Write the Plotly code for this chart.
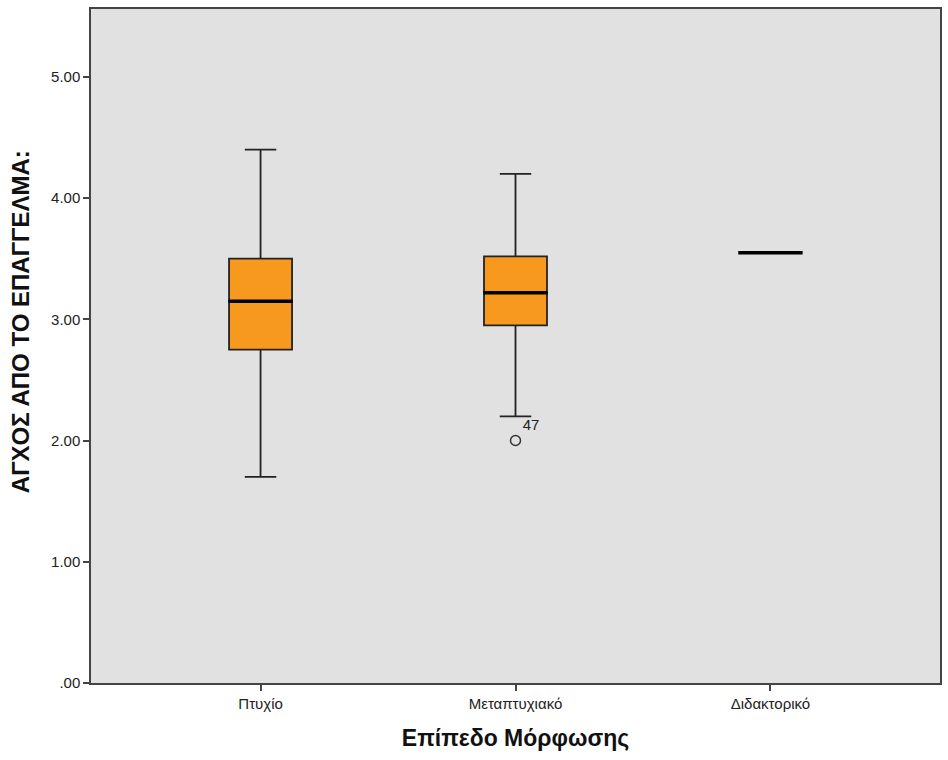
import plotly.graph_objects as go

categories = ["Πτυχίο", "Μεταπτυχιακό", "Διδακτορικό"]
lower_whisker = [1.70, 2.20, 3.55]
q1_vals = [2.75, 2.95, 3.55]
medians = [3.15, 3.22, 3.55]
q3_vals = [3.50, 3.52, 3.55]
upper_whisker = [4.40, 4.20, 3.55]

outlier_cat = ["Μεταπτυχιακό"]
outlier_val = [2.00]
outlier_label = ["47"]

y_tickvals = [0, 1, 2, 3, 4, 5]
y_ticktext = [".00", "1.00", "2.00", "3.00", "4.00", "5.00"]

y_title = "ΑΓΧΟΣ ΑΠΟ ΤΟ ΕΠΑΓΓΕΛΜΑ:"
x_title = "Επίπεδο Μόρφωσης"

fig = go.Figure()

fig.add_trace(go.Box(
    x=categories,
    q1=q1_vals, median=medians, q3=q3_vals,
    lowerfence=lower_whisker, upperfence=upper_whisker,
    width=0.247, whiskerwidth=0.5,
    fillcolor="#F7991E",
    line=dict(color="#222222", width=1.8),
    boxpoints=False, hoverinfo="skip",
    showlegend=False,
))

# thicker median lines
fig.add_trace(go.Scatter(
    x=categories, y=medians, mode="markers",
    marker=dict(symbol="line-ew", size=46, line=dict(color="black", width=3.5)),
    showlegend=False, hoverinfo="skip",
))

fig.add_trace(go.Scatter(
    x=outlier_cat, y=outlier_val, mode="markers+text",
    marker=dict(symbol="circle-open", size=10, color="#333333", line=dict(width=1.5)),
    text=outlier_label, textposition="top right",
    textfont=dict(family="Liberation Sans, Arial", size=15, color="#222222"),
    showlegend=False, hoverinfo="skip",
))

fig.update_layout(
    width=948, height=760,
    margin=dict(l=91, r=6, t=9, b=77),
    paper_bgcolor="white",
    plot_bgcolor="#E1E1E1",
    font=dict(family="Liberation Sans, Arial", size=15, color="#222222"),
    annotations=[dict(
        text="<b>" + y_title + "</b>", textangle=-90,
        xref="paper", yref="paper", x=-0.0834, y=0.5356,
        xanchor="center", yanchor="middle", showarrow=False,
        font=dict(size=24, color="#111111"),
    )],
)

fig.update_xaxes(
    type="category", categoryorder="array", categoryarray=categories,
    range=[-0.665, 2.665],
    showgrid=False, zeroline=False,
    showline=True, linecolor="#444444", linewidth=1.5, mirror=True,
    ticks="outside", ticklen=6, tickcolor="#444444", tickwidth=1.5,
    tickfont=dict(size=15),
    title=dict(text="<b>" + x_title + "</b>", font=dict(size=23, color="#111111"), standoff=19),
)
fig.update_yaxes(
    range=[0, 5.56],
    tickvals=y_tickvals, ticktext=y_ticktext,
    showgrid=False, zeroline=False,
    showline=True, linecolor="#444444", linewidth=1.5, mirror=True,
    ticks="outside", ticklen=6, tickcolor="#444444", tickwidth=1.5,
    tickfont=dict(size=15),
)

fig.write_html("out.html")
